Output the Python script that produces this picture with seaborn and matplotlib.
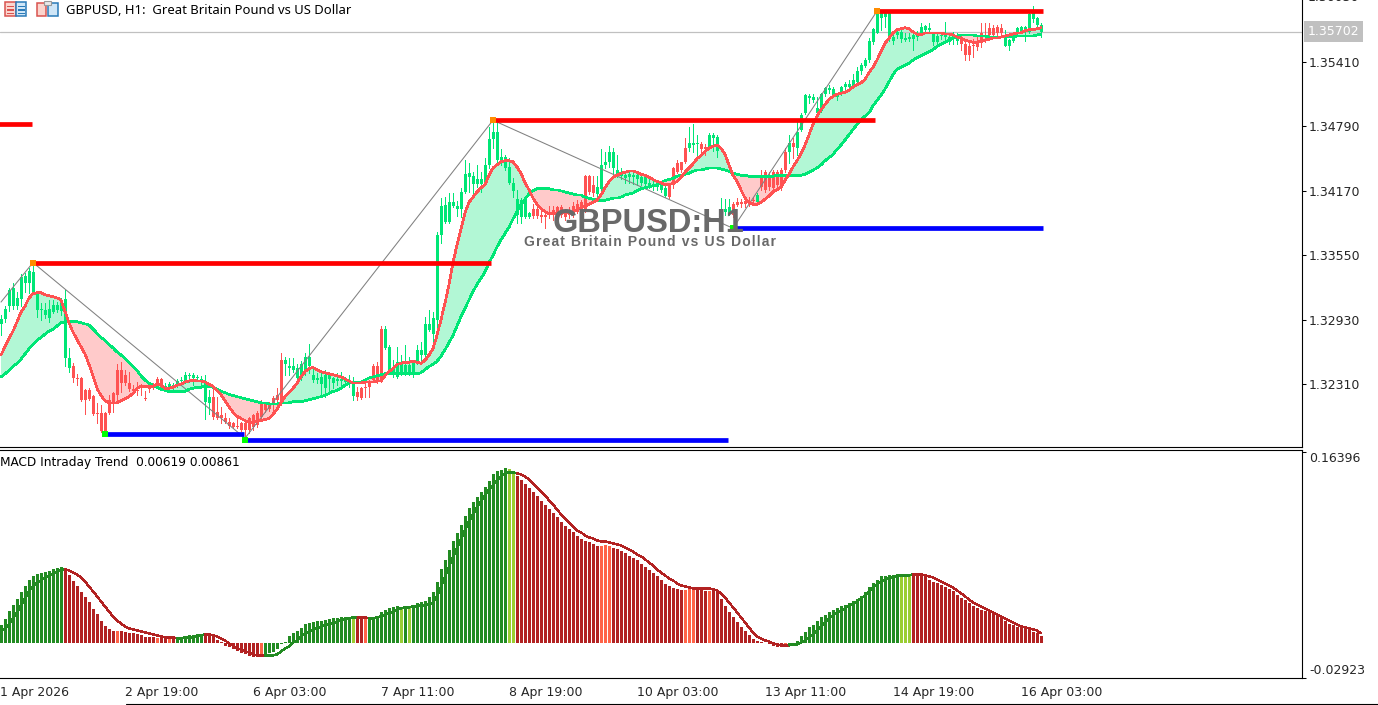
import numpy as np
import pandas as pd
import matplotlib
matplotlib.use('Agg')
import matplotlib.pyplot as plt
import matplotlib.transforms as mtransforms
from matplotlib.lines import Line2D
from matplotlib.patches import Rectangle
import seaborn as sns

# prices are stored in 1e-4 units (13541 = 1.3541), MACD in 1e-3 units
candle_open = [
    13289,13294,13306,13306,13306,13313,13328,13328,13319,13302,
    13302,13298,13295,13300,13302,13301,13256,13247,13248,13237,
    13237,13225,13225,13220,13203,13203,13203,13216,13222,13245,
    13245,13240,13232,13226,13225,13230,13218,13228,13231,13236,
    13236,13228,13228,13228,13230,13234,13234,13239,13237,13237,
    13234,13214,13213,13219,13204,13201,13198,13195,13194,13191,
    13194,13194,13198,13201,13203,13212,13212,13212,13218,13221,
    13254,13250,13247,13245,13237,13237,13243,13248,13235,13235,
    13231,13227,13236,13232,13234,13234,13233,13232,13220,13223,
    13227,13228,13233,13248,13248,13284,13266,13243,13243,13238,
    13242,13242,13242,13240,13250,13259,13259,13283,13279,13293,
    13375,13387,13387,13402,13400,13400,13416,13430,13424,13424,
    13424,13425,13442,13467,13447,13447,13439,13425,13417,13394,
    13392,13392,13392,13400,13400,13394,13394,13397,13399,13401,
    13401,13397,13399,13402,13404,13406,13431,13431,13423,13414,
    13419,13442,13445,13439,13432,13431,13429,13430,13430,13428,
    13425,13424,13423,13422,13421,13418,13412,13423,13439,13444,
    13445,13458,13458,13461,13462,13462,13459,13458,13468,13455,
    13391,13397,13396,13404,13406,13406,13407,13407,13408,13406,
    13432,13435,13430,13435,13435,13437,13454,13454,13463,13458,
    13476,13492,13506,13504,13492,13494,13510,13514,13508,13507,
    13510,13517,13517,13517,13522,13532,13537,13543,13560,13569,
    13583,13584,13563,13561,13567,13563,13562,13563,13563,13565,
    13569,13572,13572,13560,13560,13566,13565,13560,13565,13561,
    13565,13558,13556,13557,13560,13569,13566,13574,13574,13575,
    13574,13556,13556,13561,13569,13569,13570,13570,13582,13577,13570,
]
candle_close = [
    13294,13303,13322,13324,13314,13334,13335,13340,13339,13318,
    13303,13302,13303,13307,13307,13309,13313,13256,13237,13236,
    13216,13216,13217,13202,13202,13186,13186,13203,13214,13221,
    13232,13232,13226,13224,13224,13228,13217,13226,13228,13228,
    13228,13229,13231,13230,13234,13235,13240,13240,13240,13238,
    13236,13233,13219,13199,13198,13198,13195,13191,13190,13190,
    13187,13187,13187,13190,13192,13199,13206,13207,13211,13216,
    13213,13254,13248,13248,13247,13250,13257,13257,13240,13237,
    13238,13240,13240,13237,13236,13236,13235,13233,13232,13219,
    13218,13227,13228,13235,13233,13235,13284,13267,13247,13252,
    13251,13249,13249,13252,13264,13264,13289,13289,13295,13375,
    13402,13403,13406,13406,13402,13416,13433,13434,13431,13428,
    13428,13442,13467,13474,13474,13450,13450,13440,13425,13409,
    13408,13408,13396,13393,13393,13392,13392,13394,13394,13392,
    13394,13392,13394,13394,13397,13398,13398,13416,13415,13421,
    13442,13445,13454,13454,13437,13434,13432,13433,13432,13432,
    13430,13430,13425,13424,13423,13423,13420,13411,13423,13435,
    13437,13445,13463,13463,13463,13457,13457,13471,13471,13469,
    13399,13400,13401,13394,13403,13404,13404,13404,13407,13413,
    13421,13418,13421,13420,13423,13420,13437,13463,13459,13474,
    13490,13509,13508,13507,13497,13510,13516,13516,13515,13509,
    13517,13520,13520,13524,13532,13538,13543,13561,13573,13588,
    13588,13588,13588,13565,13570,13570,13564,13565,13567,13569,
    13575,13576,13574,13569,13566,13567,13567,13565,13566,13565,
    13558,13548,13548,13556,13555,13559,13565,13567,13567,13569,
    13569,13567,13562,13565,13574,13575,13575,13587,13588,13583,13577,
]
candle_high = [
    13298,13306,13324,13328,13320,13337,13338,13343,13348,13319,
    13309,13309,13312,13312,13310,13314,13322,13266,13251,13241,
    13238,13226,13227,13221,13213,13211,13204,13221,13223,13250,
    13252,13245,13243,13230,13233,13231,13224,13230,13232,13238,
    13237,13232,13233,13232,13236,13238,13243,13242,13242,13240,
    13239,13240,13225,13228,13219,13209,13203,13198,13195,13199,
    13195,13195,13199,13202,13205,13216,13213,13214,13220,13227,
    13261,13257,13256,13256,13250,13253,13261,13270,13247,13242,
    13242,13245,13243,13238,13242,13243,13238,13240,13238,13228,
    13228,13233,13235,13250,13252,13287,13287,13269,13254,13267,
    13259,13269,13257,13253,13269,13272,13296,13302,13300,13377,
    13410,13411,13415,13415,13407,13420,13447,13444,13435,13442,
    13435,13449,13478,13484,13483,13457,13452,13449,13429,13418,
    13410,13409,13397,13404,13402,13399,13399,13402,13402,13402,
    13403,13400,13401,13406,13408,13408,13432,13432,13431,13431,
    13457,13454,13460,13458,13452,13439,13435,13435,13435,13433,
    13431,13431,13430,13427,13425,13425,13423,13424,13440,13447,
    13445,13468,13478,13481,13471,13464,13462,13473,13473,13471,
    13410,13409,13409,13406,13410,13409,13411,13411,13411,13415,
    13437,13437,13435,13437,13437,13439,13458,13471,13468,13484,
    13492,13510,13510,13510,13507,13511,13517,13519,13517,13511,
    13518,13522,13524,13529,13536,13540,13545,13564,13574,13591,
    13591,13591,13589,13570,13574,13574,13569,13569,13570,13571,
    13579,13577,13579,13570,13569,13569,13580,13569,13570,13569,
    13567,13563,13560,13563,13566,13579,13579,13579,13577,13577,
    13578,13572,13563,13567,13575,13576,13576,13589,13595,13584,13579,
]
candle_low = [
    13278,13291,13301,13303,13303,13306,13320,13319,13319,13296,
    13293,13295,13291,13299,13300,13298,13248,13243,13233,13230,
    13215,13202,13216,13201,13194,13185,13184,13202,13204,13213,
    13223,13230,13224,13223,13221,13221,13216,13223,13226,13227,
    13227,13224,13223,13225,13228,13230,13232,13233,13230,13235,
    13230,13197,13202,13197,13197,13194,13194,13189,13189,13189,
    13186,13179,13184,13187,13190,13198,13204,13205,13204,13209,
    13211,13240,13240,13243,13233,13235,13240,13242,13233,13232,
    13221,13219,13224,13227,13230,13228,13230,13228,13216,13216,
    13217,13219,13219,13233,13232,13233,13265,13242,13238,13237,
    13240,13240,13240,13238,13250,13250,13257,13282,13267,13281,
    13367,13386,13386,13401,13393,13392,13415,13416,13415,13421,
    13416,13424,13439,13458,13442,13442,13437,13424,13411,13386,
    13386,13391,13391,13391,13391,13387,13381,13391,13389,13389,
    13392,13389,13391,13392,13396,13397,13397,13414,13412,13412,
    13416,13439,13440,13432,13430,13428,13425,13425,13424,13423,
    13423,13421,13420,13418,13418,13416,13411,13410,13420,13434,
    13435,13444,13455,13454,13452,13452,13452,13457,13455,13450,
    13389,13394,13394,13392,13402,13401,13401,13402,13404,13404,
    13418,13416,13418,13418,13418,13418,13435,13444,13449,13452,
    13475,13491,13502,13503,13490,13493,13508,13511,13507,13504,
    13509,13514,13514,13516,13519,13529,13536,13541,13558,13569,
    13572,13575,13561,13558,13564,13560,13561,13561,13553,13562,
    13567,13569,13569,13557,13557,13563,13561,13558,13558,13558,
    13553,13543,13543,13546,13553,13555,13560,13565,13565,13567,
    13568,13556,13553,13560,13566,13569,13561,13569,13580,13576,13565,
]
fast_ma = [
    13259,13267,13275,13282,13291,13300,13306,13314,13318,13319,
    13319,13317,13316,13315,13314,13312,13301,13290,13281,13274,
    13267,13260,13250,13239,13227,13220,13215,13213,13213,13213,
    13215,13217,13219,13222,13227,13229,13229,13229,13229,13231,
    13230,13227,13227,13228,13230,13231,13233,13234,13235,13234,
    13234,13233,13231,13229,13225,13221,13215,13209,13204,13200,
    13198,13196,13194,13194,13195,13196,13197,13198,13202,13207,
    13213,13219,13223,13227,13232,13238,13243,13246,13247,13245,
    13243,13242,13241,13240,13239,13238,13236,13234,13232,13232,
    13232,13233,13233,13233,13234,13234,13239,13243,13246,13250,
    13251,13252,13252,13253,13252,13251,13254,13259,13265,13278,
    13293,13309,13327,13348,13365,13380,13396,13406,13411,13416,
    13420,13423,13432,13439,13442,13445,13446,13446,13445,13440,
    13434,13425,13418,13410,13404,13400,13397,13395,13395,13395,
    13396,13396,13396,13397,13399,13401,13402,13404,13406,13408,
    13413,13420,13426,13430,13432,13434,13435,13436,13436,13435,
    13433,13432,13430,13428,13426,13425,13423,13423,13424,13426,
    13430,13435,13439,13443,13448,13451,13455,13458,13460,13461,
    13458,13452,13442,13432,13426,13418,13410,13406,13404,13404,
    13406,13409,13412,13416,13418,13421,13427,13433,13440,13446,
    13453,13461,13471,13481,13489,13495,13500,13505,13508,13510,
    13511,13512,13514,13517,13519,13521,13524,13531,13536,13543,
    13551,13559,13564,13569,13572,13573,13574,13573,13570,13568,
    13567,13569,13569,13569,13569,13569,13568,13568,13567,13565,
    13564,13562,13561,13560,13560,13561,13562,13563,13564,13564,
    13565,13566,13567,13568,13569,13569,13571,13572,13572,13573,13574,
]
slow_ma = [
    13238,13241,13244,13248,13251,13255,13260,13265,13269,13273,
    13276,13279,13282,13284,13287,13290,13291,13291,13291,13291,
    13290,13289,13288,13284,13280,13276,13273,13269,13266,13262,
    13259,13256,13252,13248,13244,13239,13235,13232,13230,13228,
    13226,13225,13224,13224,13224,13224,13224,13226,13227,13228,
    13228,13229,13229,13228,13226,13224,13223,13221,13220,13219,
    13218,13217,13216,13215,13214,13213,13213,13212,13212,13212,
    13213,13213,13213,13214,13214,13214,13215,13216,13217,13218,
    13219,13220,13222,13224,13225,13227,13230,13232,13233,13233,
    13233,13235,13237,13238,13239,13240,13241,13241,13241,13241,
    13241,13241,13241,13241,13241,13242,13245,13248,13250,13253,
    13258,13264,13271,13278,13287,13296,13304,13312,13320,13327,
    13333,13339,13348,13355,13363,13370,13376,13382,13390,13397,
    13404,13409,13414,13417,13419,13419,13419,13419,13418,13418,
    13417,13416,13415,13414,13413,13413,13411,13410,13409,13408,
    13408,13408,13409,13410,13410,13411,13413,13414,13415,13417,
    13419,13420,13421,13422,13423,13425,13427,13428,13429,13431,
    13432,13433,13434,13436,13437,13437,13438,13439,13439,13439,
    13438,13437,13436,13434,13433,13432,13432,13431,13431,13431,
    13431,13431,13431,13431,13432,13432,13432,13432,13432,13432,
    13432,13433,13435,13437,13439,13442,13446,13449,13452,13457,
    13461,13466,13471,13476,13481,13485,13489,13492,13499,13504,
    13509,13515,13522,13529,13534,13536,13538,13540,13543,13545,
    13547,13549,13551,13553,13556,13558,13560,13562,13564,13566,
    13567,13567,13567,13567,13566,13566,13566,13565,13565,13565,
    13565,13565,13565,13565,13566,13566,13566,13566,13566,13567,13568,
]
macd_hist = [
    15.4,20.6,27.4,32.6,37.7,43.7,48.9,54.0,57.4,59.1,
    60.0,60.8,61.7,63.4,64.3,65.1,61.7,58.3,53.1,48.9,
    43.7,39.4,35.1,29.1,24.9,18.9,14.6,12.0,10.3,10.3,
    10.3,9.4,8.6,8.6,7.7,6.9,5.1,5.1,5.1,4.3,
    4.3,4.3,3.4,3.4,4.3,5.1,6.0,6.9,6.9,7.7,
    7.7,7.7,6.9,5.1,2.6,0.9,-2.6,-3.4,-5.1,-6.9,
    -8.6,-9.4,-11.1,-12.0,-12.0,-10.3,-9.4,-8.6,-7.7,-5.1,
    -0.9,0.9,6.0,8.6,10.3,12.9,16.3,17.1,18.0,18.9,
    18.9,19.7,20.6,21.4,21.4,22.3,22.3,22.3,22.3,22.3,
    22.3,20.6,22.3,22.3,23.1,26.6,28.3,30.0,30.9,31.7,
    30.9,31.7,31.7,31.7,34.3,35.1,36.0,39.4,43.7,52.3,
    63.4,71.1,79.7,87.4,94.3,101.1,108.8,115.7,120.8,125.1,
    129.4,133.7,138.8,144.8,147.4,148.3,150.0,149.1,146.5,143.1,
    139.7,136.3,132.8,129.4,126.0,121.7,118.3,114.8,111.4,108.0,
    103.7,100.3,97.7,95.1,91.7,89.1,87.4,86.6,84.8,83.1,
    83.1,84.0,83.1,81.4,80.6,78.8,77.1,74.6,72.8,71.1,
    67.7,65.1,62.6,60.0,57.4,54.0,50.6,48.8,47.1,46.3,
    45.4,45.4,47.1,46.3,45.4,45.4,44.6,44.6,44.6,43.7,
    37.7,31.7,26.6,22.3,18.0,13.7,10.3,6.9,3.4,1.7,
    0.9,0.3,-0.9,-2.6,-3.4,-3.4,-2.6,-1.7,-0.9,1.7,
    6.0,9.4,13.7,15.4,18.9,22.3,24.0,26.6,28.3,30.0,
    31.7,32.6,34.3,36.0,37.7,40.3,43.7,48.0,51.4,54.0,
    57.4,57.4,58.3,58.3,59.1,59.1,59.1,58.3,58.3,58.3,
    57.4,56.6,54.0,52.3,51.4,49.7,48.0,46.3,44.6,41.1,
    38.6,36.9,34.3,31.7,30.0,28.3,27.4,26.6,25.7,23.1,
    22.3,18.9,16.3,15.4,13.7,12.9,12.0,11.1,9.4,8.6,6.19,
]
macd_signal = [
    10.3,12.9,16.3,21.4,26.6,32.6,38.6,44.6,48.8,52.3,
    54.0,56.6,58.3,60.0,61.7,63.4,63.4,62.6,60.8,59.1,
    56.6,53.1,48.8,44.6,40.3,36.0,31.7,27.4,23.1,19.7,
    17.1,14.6,12.9,12.0,11.1,10.3,9.4,8.6,7.7,6.9,
    6.0,5.1,5.1,5.1,4.3,4.3,5.1,5.1,5.1,6.0,
    6.9,7.7,7.7,6.9,6.0,4.3,2.6,0.0,-1.7,-4.3,
    -5.1,-6.9,-7.7,-9.4,-10.3,-10.3,-10.3,-10.3,-10.3,-9.4,
    -6.9,-4.3,-2.6,0.9,2.6,6.0,8.6,10.3,12.0,12.9,
    14.6,15.4,16.3,17.1,18.9,19.7,20.6,21.4,22.3,22.3,
    22.3,22.3,21.4,21.4,22.3,23.1,24.9,25.7,27.4,29.1,
    30.0,30.9,30.9,31.7,31.7,32.6,32.6,33.4,35.1,40.3,
    48.8,56.6,66.0,73.7,81.4,89.1,96.8,104.6,110.6,116.6,
    121.7,126.8,132.0,135.4,139.7,143.1,145.7,146.5,146.5,145.7,
    144.8,143.1,140.5,137.1,133.7,130.3,126.8,122.6,119.1,114.8,
    110.6,107.1,103.7,100.3,96.8,95.1,92.6,90.8,90.0,88.3,
    87.4,87.4,86.6,85.7,84.8,84.0,82.3,80.6,78.8,76.3,
    74.6,72.0,69.4,66.8,63.4,60.8,58.3,55.7,54.0,51.4,
    49.7,48.8,48.0,47.1,47.1,47.1,47.1,47.1,46.3,45.4,
    42.9,39.4,35.1,30.9,26.6,22.3,18.0,13.7,9.4,6.0,
    4.3,2.6,1.7,0.0,-0.9,-1.7,-1.7,-1.7,-0.9,-0.9,
    0.9,2.6,5.1,7.7,11.1,14.6,18.0,21.4,24.0,26.6,
    28.3,30.0,32.6,34.3,36.0,38.6,41.1,44.6,48.0,50.6,
    53.1,54.8,55.7,56.6,57.4,58.3,58.3,58.3,59.1,59.1,
    59.1,58.3,57.4,56.6,54.8,53.1,51.4,49.7,48.0,45.4,
    42.9,40.3,37.7,35.1,33.4,31.7,30.0,28.3,26.6,24.9,
    23.1,21.4,19.7,18.0,16.3,14.6,13.7,12.9,12.0,11.1,8.61,
]
hist_runs = [
    ('up',16),('down',13),('ease',1),('down',9),('ease',1),('down',2),('ease',1),('down',1),
    ('up',7),('down',14),('ease',1),('up',22),('slow',1),('down',2),('ease',1),('up',8),
    ('slow',1),('up',1),('slow',1),('up',24),('slow',2),('down',21),('ease',3),('down',18),
    ('ease',3),('down',3),('ease',1),('down',18),('ease',1),('up',28),('slow',3),('down',33),
]

# zigzag turning points (bar index, price)
zigzag_bar = [0, 8, 61, 123, 183, 219]
zigzag_price = [13310, 13348, 13179, 13485, 13381, 13590]

# support / resistance levels
res_start = [-1, 8, 123, 219]
res_end = [7.75, 122.5, 218.5, 260.5]
res_level = [13481, 13348, 13485, 13590]
sup_start = [26, 61, 183]
sup_end = [60.75, 181.75, 260.5]
sup_level = [13183, 13177, 13381]

price_ticks = [1.32310, 1.32930, 1.33550, 1.34170, 1.34790, 1.35410]
clipped_tick = 1.36030
bid_price = 1.35702
macd_ticks = [-0.02923, 0.16396]
date_bars = [-0.25, 31, 63, 95, 127, 159, 191, 223, 255]
date_labels = ['1 Apr 2026', '2 Apr 19:00', '6 Apr 03:00', '7 Apr 11:00', '8 Apr 19:00',
               '10 Apr 03:00', '13 Apr 11:00', '14 Apr 19:00', '16 Apr 03:00']

UP = '#00E676'
DOWN = '#FF5252'
HIST_COLORS = {'up': '#228B22', 'slow': '#9ACD32', 'down': '#B22222', 'ease': '#FF6347'}
WIDTH, HEIGHT = 1378, 705
LABEL_SIZE = 9


def box(left, top, right, bottom):
    return [left / WIDTH, 1 - bottom / HEIGHT, (right - left) / WIDTH, (bottom - top) / HEIGHT]


def px_rect(fig, x, y, w, h, fc, ec='none', lw=0.7):
    fig.add_artist(Rectangle((x / WIDTH, 1 - (y + h) / HEIGHT), w / WIDTH, h / HEIGHT,
                             transform=fig.transFigure, facecolor=fc, edgecolor=ec, linewidth=lw))


def draw_icons(fig):
    red, blue = '#D9534F', '#2A7AB8'
    px_rect(fig, 5, 2, 10.5, 14, '#FBD5CE', red, 1.1)
    px_rect(fig, 15.5, 2, 10.5, 14, '#CFE6F7', blue, 1.1)
    for y in [6, 9.5, 13]:
        px_rect(fig, 7, y, 7, 1.2, red)
        px_rect(fig, 17.5, y, 7, 1.2, blue)
    px_rect(fig, 37, 3, 9, 13, '#FBD5CE', red, 1.1)
    px_rect(fig, 48, 3, 10, 13, '#CFE6F7', blue, 1.1)
    px_rect(fig, 44, 1, 7, 3.5, '#E8E8E8', '#999999', 0.8)


def draw_candles(ax, bars, opens, closes, highs, lows):
    colors = np.where(closes >= opens, UP, DOWN)
    ax.vlines(bars, lows, highs, colors=colors, linewidth=0.72, zorder=3, antialiased=False)
    ax.bar(bars, np.abs(closes - opens), bottom=np.minimum(opens, closes), width=0.75,
           color=colors, linewidth=0, zorder=3, antialiased=False)


def style_axis(ax, right_ticks):
    ax.set_xlabel('')
    ax.set_ylabel('')
    ax.yaxis.tick_right()
    ax.set_yticks(right_ticks)
    ax.tick_params(axis='y', length=3, width=0.75, color='black', pad=2, labelsize=LABEL_SIZE)
    for side in ['left', 'top']:
        ax.spines[side].set_visible(False)
    for side in ['right', 'bottom']:
        ax.spines[side].set_linewidth(0.8)
        ax.spines[side].set_color('black')


sns.set_style('white')
plt.rcParams['font.family'] = ['DejaVu Sans']

fig = plt.figure(figsize=(WIDTH / 100, HEIGHT / 100), dpi=100)
ax_price = fig.add_axes(box(0, 0, 1302, 447))
ax_macd = fig.add_axes(box(0, 450, 1302, 677.5))

bars = np.arange(len(candle_open))
fast = np.array(fast_ma) / 1e4
slow = np.array(slow_ma) / 1e4

# price panel
ax_price.fill_between(bars, fast, slow, where=fast >= slow, interpolate=True, color=UP, alpha=0.3, linewidth=0, zorder=1)
ax_price.fill_between(bars, fast, slow, where=fast <= slow, interpolate=True, color=DOWN, alpha=0.3, linewidth=0, zorder=1)
draw_candles(ax_price, bars, np.array(candle_open) / 1e4, np.array(candle_close) / 1e4,
             np.array(candle_high) / 1e4, np.array(candle_low) / 1e4)
sns.lineplot(x=zigzag_bar, y=np.array(zigzag_price) / 1e4, color='#808080', linewidth=0.75, ax=ax_price, zorder=4, estimator=None)
sns.lineplot(x=bars, y=slow, color=UP, linewidth=1.2, ax=ax_price, zorder=5, estimator=None, antialiased=False)
sns.lineplot(x=bars, y=fast, color=DOWN, linewidth=1.2, ax=ax_price, zorder=6, estimator=None, antialiased=False)
ax_price.hlines(np.array(res_level) / 1e4, res_start, res_end, colors='#FF0000', linewidth=3.4, zorder=7)
ax_price.hlines(np.array(sup_level) / 1e4, sup_start, sup_end, colors='#0000FF', linewidth=3.4, zorder=7)
ax_price.scatter(res_start[1:], np.array(res_level[1:]) / 1e4, marker='s', s=16, color='#FF8C00', linewidths=0, zorder=8)
ax_price.scatter(sup_start, np.array(sup_level) / 1e4, marker='s', s=16, color='#00FF00', linewidths=0, zorder=8)
ax_price.axhline(bid_price, color='#C0C0C0', linewidth=0.9, zorder=2)

ax_price.set_xlim(-0.25, 325.25)
ax_price.set_ylim(1.31705, 1.36007)
ax_price.set_xticks([])
style_axis(ax_price, price_ticks)
ax_price.set_yticklabels([f'{v:.5f}' for v in price_ticks])

right_edge = mtransforms.blended_transform_factory(ax_price.transAxes, ax_price.transData)
ax_price.text(1.0042, clipped_tick, f'{clipped_tick:.5f}', transform=right_edge, va='center',
              ha='left', fontsize=LABEL_SIZE, clip_on=False)
ax_price.text(1.0042, bid_price, f'{bid_price:.5f}', transform=right_edge, va='center', ha='left',
              fontsize=LABEL_SIZE, color='white', clip_on=False, zorder=10,
              bbox=dict(facecolor='#C0C0C0', edgecolor='none', pad=2.8))

fig.text(649 / WIDTH, 1 - 224 / HEIGHT, 'GBPUSD:H1', family=['Liberation Sans'], fontweight='bold',
         fontsize=23.5, color='#696969', ha='center', va='center', zorder=20)
# the subtitle is letter-spaced in the chart, hair spaces give the same tracking
subtitle = '\u200a'.join('Great Britain Pound vs US Dollar')
fig.text(650 / WIDTH, 1 - 241.5 / HEIGHT, subtitle, family=['Liberation Sans', 'DejaVu Sans'],
         fontweight='bold', fontsize=10, color='#696969', ha='center', va='center', zorder=20)
fig.text(66 / WIDTH, 1 - 10 / HEIGHT, 'GBPUSD, H1:  Great Britain Pound vs US Dollar',
         family=['Noto Sans'], fontsize=9.4, color='black', ha='left', va='center', zorder=20)
draw_icons(fig)

# MACD panel
state = [name for name, run in hist_runs for _ in range(run)]
hist = pd.DataFrame({'bar': bars, 'value': np.array(macd_hist) / 1e3, 'state': state})
sns.barplot(data=hist, x='bar', y='value', hue='state', palette=HIST_COLORS, native_scale=True,
            dodge=False, width=0.75, saturation=1, linewidth=0, legend=False, ax=ax_macd, zorder=2,
            antialiased=False)

signal = np.array(macd_signal) / 1e3
start = 0
for name, run in hist_runs:
    stop = min(start + run + 1, len(signal))
    color = HIST_COLORS['up'] if name in ('up', 'slow') else HIST_COLORS['down']
    sns.lineplot(x=bars[start:stop], y=signal[start:stop], color=color, linewidth=1.0, ax=ax_macd,
                 zorder=3, estimator=None, antialiased=False)
    start += run

ax_macd.set_xlim(-0.25, 325.25)
ax_macd.set_ylim(macd_ticks[0], 0.16572)
style_axis(ax_macd, macd_ticks)
ax_macd.set_yticklabels([f'{v:.5f}' for v in macd_ticks])
ax_macd.get_yticklabels()[0].set_verticalalignment('bottom')
ax_macd.get_yticklabels()[1].set_verticalalignment('top')
ax_macd.spines['top'].set_visible(True)
ax_macd.spines['top'].set_linewidth(0.8)
ax_macd.spines['top'].set_color('black')
ax_macd.set_xticks(date_bars)
ax_macd.set_xticklabels(date_labels, ha='left', fontsize=LABEL_SIZE)
ax_macd.tick_params(axis='x', length=3, width=0.75, color='black', pad=3)
ax_macd.xaxis.get_major_ticks()[0].tick1line.set_visible(False)
ax_macd.text(0, 1 - 12.5 / 227.5, 'MACD Intraday Trend  0.00619 0.00861', transform=ax_macd.transAxes,
             fontsize=8.7, color='black', ha='left', va='center')

fig.add_artist(Line2D([126 / WIDTH, 1], [1 - 704 / HEIGHT] * 2, color='black', linewidth=0.8,
                      transform=fig.transFigure))

fig.savefig('out.png', dpi=100, facecolor='white')
